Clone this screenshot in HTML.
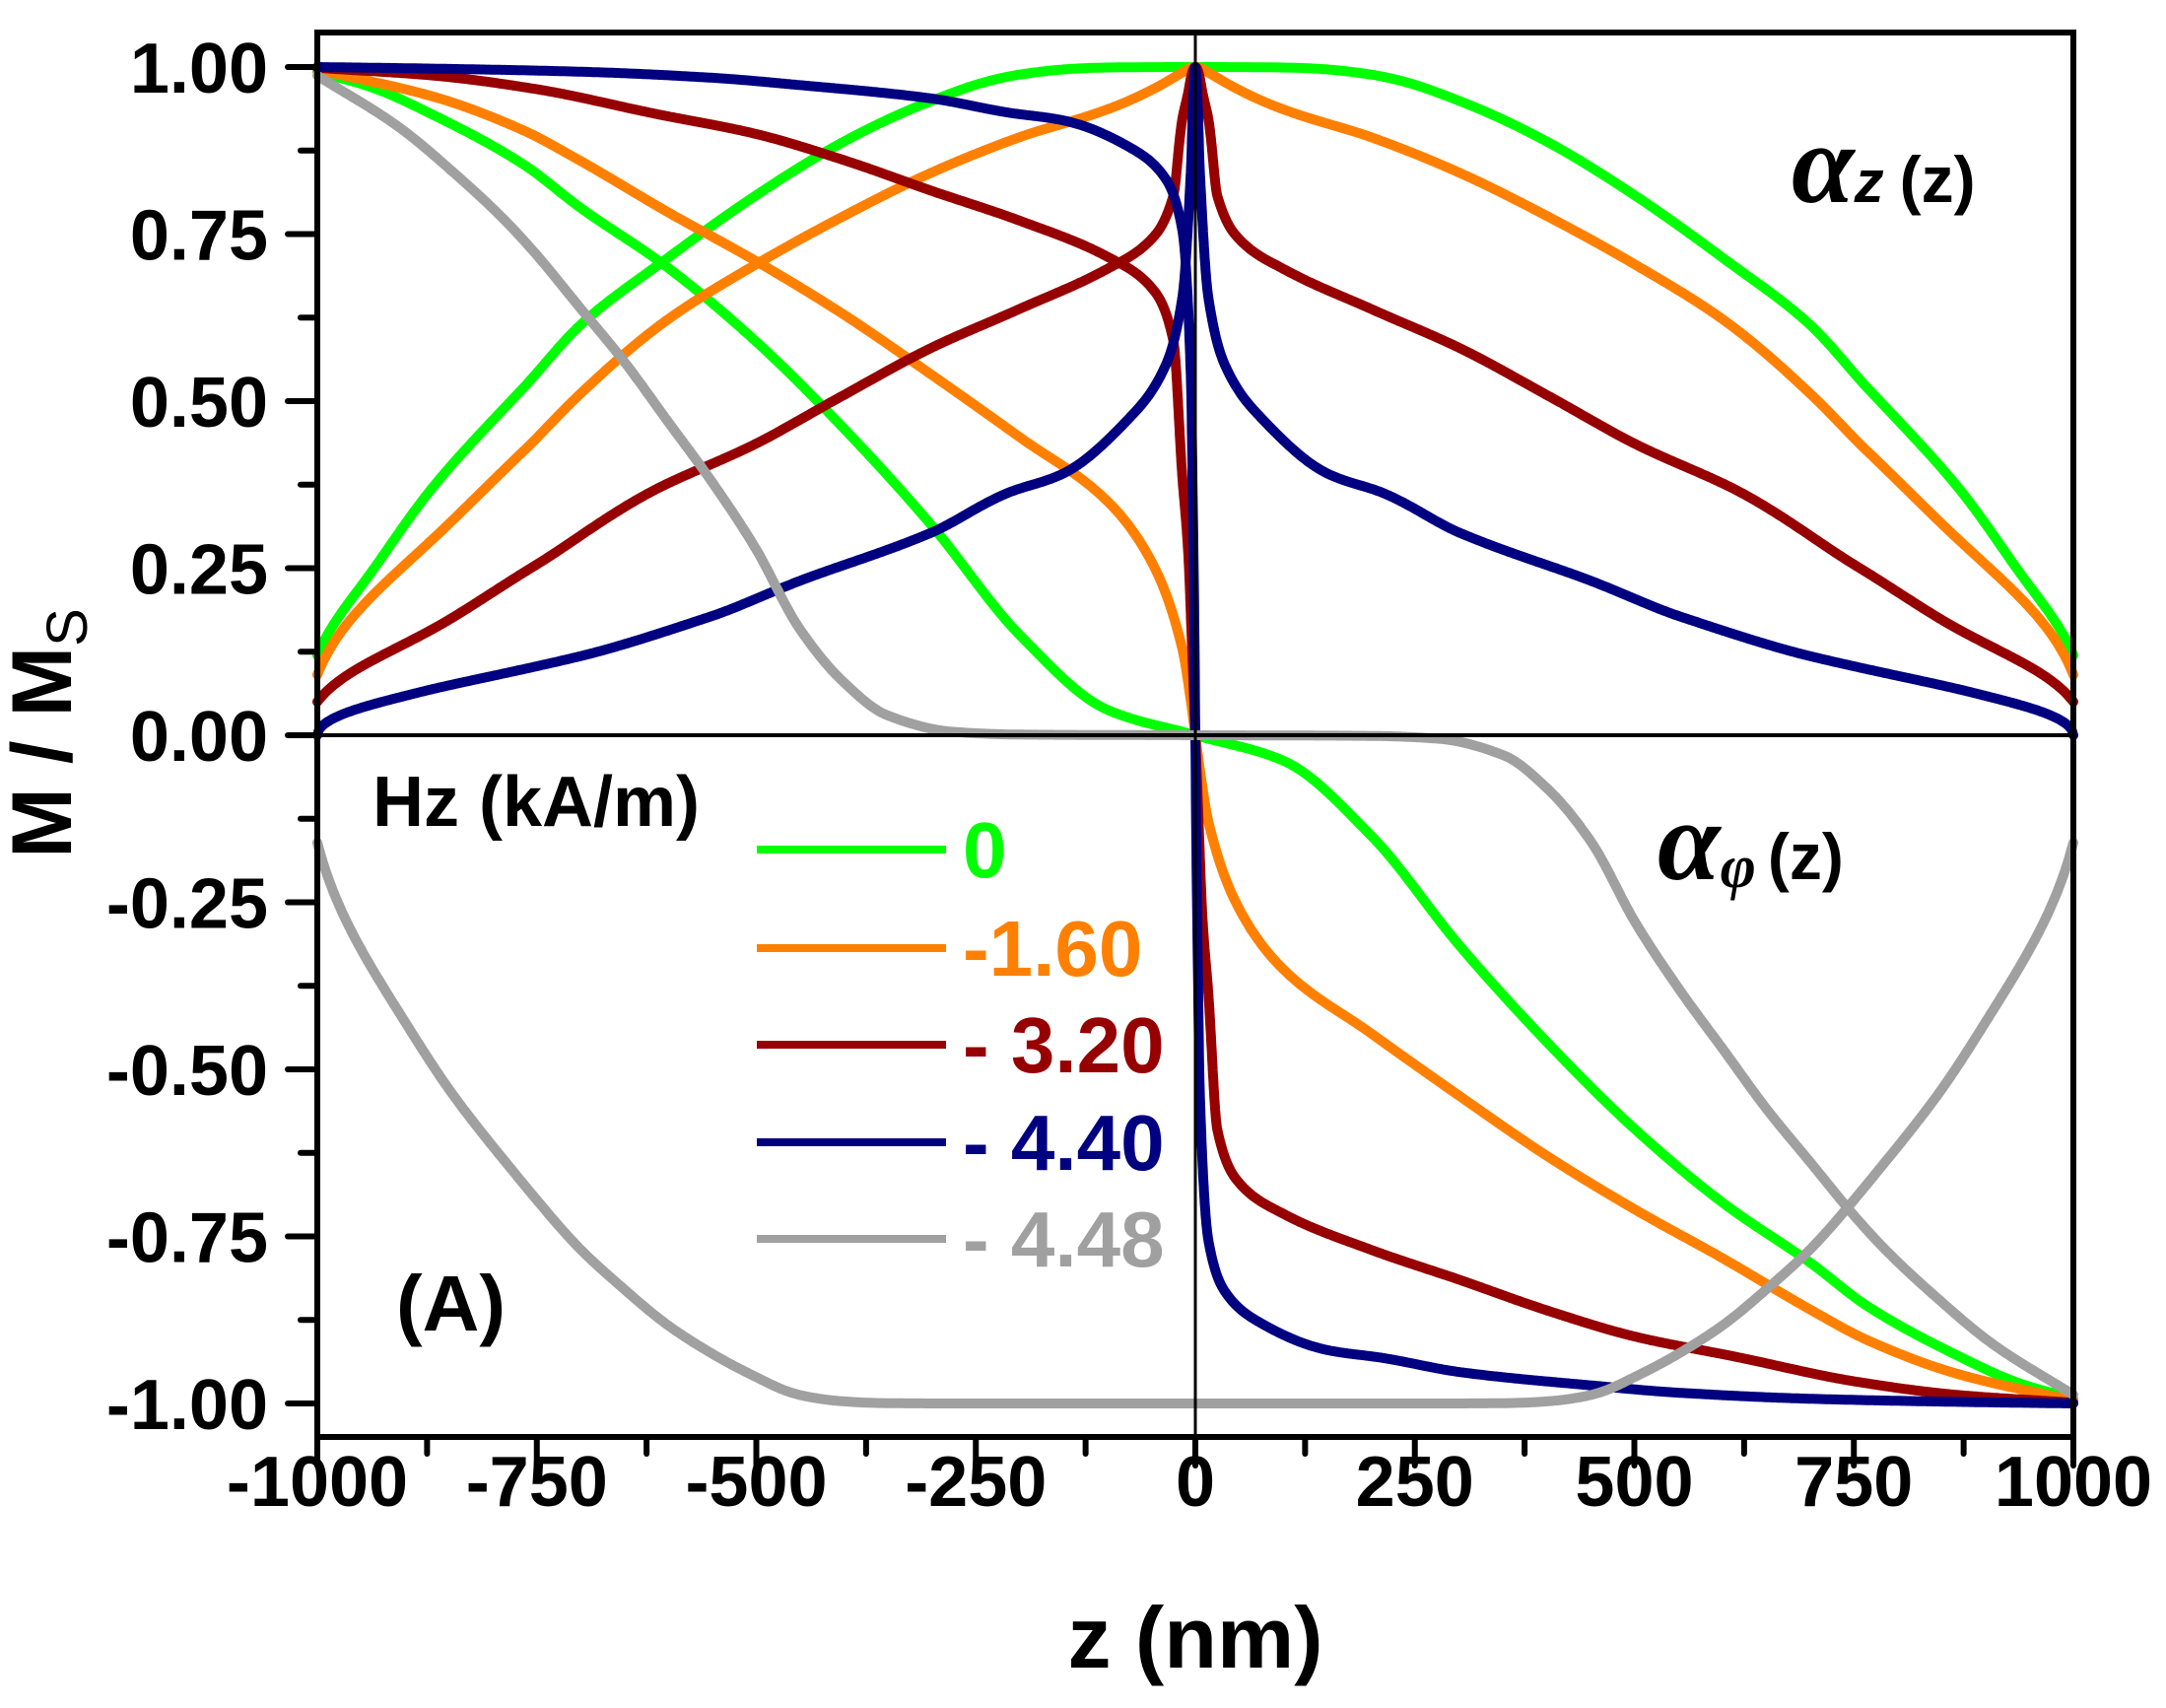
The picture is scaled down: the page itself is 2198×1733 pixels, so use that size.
<!DOCTYPE html>
<html><head><meta charset="utf-8">
<style>
html,body{margin:0;padding:0;background:#fff;}
svg{display:block;font-family:"Liberation Sans",Arial,sans-serif;font-weight:bold;}
</style></head>
<body>
<svg id="s" width="2198" height="1733" viewBox="0 0 2198 1733" xmlns="http://www.w3.org/2000/svg">
<rect x="0" y="0" width="2198" height="1733" fill="#fff"/>
<g id="curves" fill="none" stroke-width="10" stroke-linejoin="round" stroke-linecap="round"></g>
<line x1="322" y1="746" x2="2104" y2="746" stroke="#000" stroke-width="4"/>
<line x1="1213" y1="33" x2="1213" y2="1458" stroke="#000" stroke-width="3"/>
<rect x="322" y="33" width="1782" height="1425" fill="none" stroke="#000" stroke-width="6"/>
<g id="ticks" stroke="#000" stroke-width="6" stroke-linecap="round"></g>
<g id="labels" font-size="72" fill="#000"></g>
<text transform="translate(72,744) rotate(-90)" text-anchor="middle" font-size="86" fill="#000">M / M<tspan font-size="58" font-weight="normal" dy="16">S</tspan></text>
<text x="1213" y="1692" text-anchor="middle" font-size="88" fill="#000">z (nm)</text>
<text x="378" y="838" font-size="72" fill="#000">Hz (kA/m)</text>
<g stroke-width="8">
<line x1="768" y1="862" x2="960" y2="862" stroke="#00ff00"/>
<line x1="768" y1="962" x2="960" y2="962" stroke="#ff8000"/>
<line x1="768" y1="1060" x2="960" y2="1060" stroke="#960000"/>
<line x1="768" y1="1159" x2="960" y2="1159" stroke="#000080"/>
<line x1="768" y1="1257" x2="960" y2="1257" stroke="#a0a0a0"/>
</g>
<g font-size="80">
<text x="977" y="890" fill="#00ff00">0</text>
<text x="977" y="990" fill="#ff8000">-1.60</text>
<text x="977" y="1088" fill="#960000">- 3.20</text>
<text x="977" y="1187" fill="#000080">- 4.40</text>
<text x="977" y="1285" fill="#a0a0a0">- 4.48</text>
</g>
<text x="402" y="1350" font-size="80" fill="#000">(A)</text>
<text x="1818" y="205" fill="#000"><tspan font-family="'Liberation Serif',serif" font-style="italic" font-size="115">α</tspan><tspan font-style="italic" font-size="60" dx="0">z</tspan><tspan font-size="66" dx="16">(z)</tspan></text>
<text x="1682" y="892" fill="#000"><tspan font-family="'Liberation Serif',serif" font-style="italic" font-size="115">α</tspan><tspan font-family="'Liberation Serif',serif" font-style="italic" font-size="62" dy="8" dx="0">φ</tspan><tspan font-size="66" dx="12" dy="-8">(z)</tspan></text>
</svg>
<script>
var NS="http://www.w3.org/2000/svg";
function X(z){return 322+(z+1000)/2000*1782;}
function Y(m){return 746-m*678;}
var data=[
 ["#00ff00",1,[[0,0],[100,-0.038],[200,-0.15],[301,-0.315],[401,-0.46],[501,-0.59],[601,-0.70],[701,-0.79],[765,-0.854],[866,-0.927],[939,-0.97],[1000,-0.9928]]],
 ["#ff8000",1,[[0,0],[5,-0.05],[15,-0.13],[50,-0.26],[100,-0.35],[200,-0.446],[301,-0.54],[401,-0.63],[501,-0.71],[601,-0.783],[701,-0.86],[765,-0.905],[866,-0.955],[1000,-0.9959]]],
 ["#960000",1,[[0,0],[4,-0.14],[8,-0.27],[15,-0.39],[25,-0.59],[50,-0.67],[100,-0.716],[200,-0.77],[301,-0.815],[401,-0.861],[501,-0.90],[615,-0.93],[751,-0.967],[866,-0.987],[1000,-0.99875]]],
 ["#000080",1,[[0,0],[1,-0.15],[3,-0.36],[5,-0.53],[15,-0.757],[35,-0.835],[75,-0.88],[150,-0.92],[214,-0.932],[301,-0.953],[451,-0.973],[551,-0.984],[701,-0.993],[887,-0.998],[1000,-1]]],
 ["#a0a0a0",-1,[[0,0],[200,-0.001],[275,-0.005],[351,-0.03],[401,-0.08],[451,-0.16],[501,-0.28],[551,-0.38],[601,-0.47],[651,-0.56],[701,-0.64],[751,-0.72],[786,-0.77],[843,-0.84],[907,-0.91],[1000,-0.987]]]
];
function makeSpline(pts){
 var n=pts.length,xs=[],ys=[],d=[],m=[];
 for(var i=0;i<n;i++){xs.push(pts[i][0]);ys.push(pts[i][1]);}
 for(var i=0;i<n-1;i++)d.push((ys[i+1]-ys[i])/(xs[i+1]-xs[i]));
 m[0]=d[0];m[n-1]=d[n-2];
 for(var i=1;i<n-1;i++){
  if(d[i-1]*d[i]<=0)m[i]=0;
  else{var h0=xs[i]-xs[i-1],h1=xs[i+1]-xs[i];var w1=2*h1+h0,w2=h1+2*h0;m[i]=(w1+w2)/(w1/d[i-1]+w2/d[i]);}
 }
 return function(z){
  var i=0;while(i<n-2&&z>xs[i+1])i++;
  var h=xs[i+1]-xs[i],t=(z-xs[i])/h,t2=t*t,t3=t2*t;
  return (2*t3-3*t2+1)*ys[i]+(t3-2*t2+t)*h*m[i]+(-2*t3+3*t2)*ys[i+1]+(t3-t2)*h*m[i+1];
 };
}
var g=document.getElementById("curves");
var zs=[];
for(var z=-1000;z<=1000;z+=2){zs.push(z);}
for(var k=-40;k<=40;k+=0.2)zs.push(k);
zs.sort(function(a,b){return a-b;});
data.forEach(function(c){
 var f=makeSpline(c[2]);
 var phiPts=[],azPts=[];
 zs.forEach(function(z){
  var p=f(Math.abs(z)); if(z<0)p=-p;
  if(p>1)p=1;if(p<-1)p=-1;
  var a=c[1]*Math.sqrt(Math.max(0,1-p*p));
  phiPts.push(X(z).toFixed(1)+","+Y(p).toFixed(1));
  azPts.push(X(z).toFixed(1)+","+Y(a).toFixed(1));
 });
 [phiPts,azPts].forEach(function(arr){
  var pl=document.createElementNS(NS,"polyline");
  pl.setAttribute("points",arr.join(" "));
  pl.setAttribute("stroke",c[0]);
  g.appendChild(pl);
 });
});
var tk=document.getElementById("ticks"),lb=document.getElementById("labels");
function line(x1,y1,x2,y2){var l=document.createElementNS(NS,"line");l.setAttribute("x1",x1);l.setAttribute("y1",y1);l.setAttribute("x2",x2);l.setAttribute("y2",y2);tk.appendChild(l);}
function text(x,y,s,anchor){var t=document.createElementNS(NS,"text");t.setAttribute("x",x);t.setAttribute("y",y);t.setAttribute("text-anchor",anchor);t.textContent=s;lb.appendChild(t);}
for(var i=0;i<=16;i++){
 var m=1-i*0.125,y=Y(m);
 if(i%2==0){line(292,y,322,y);text(272,y+26,m.toFixed(2),"end");}
 else line(305,y,322,y);
}
for(var i=0;i<=16;i++){
 var z=-1000+i*125,x=X(z);
 if(i%2==0){line(x,1458,x,1487);text(x,1528,String(z),"middle");}
 else line(x,1458,x,1475);
}
</script>
</body></html>
